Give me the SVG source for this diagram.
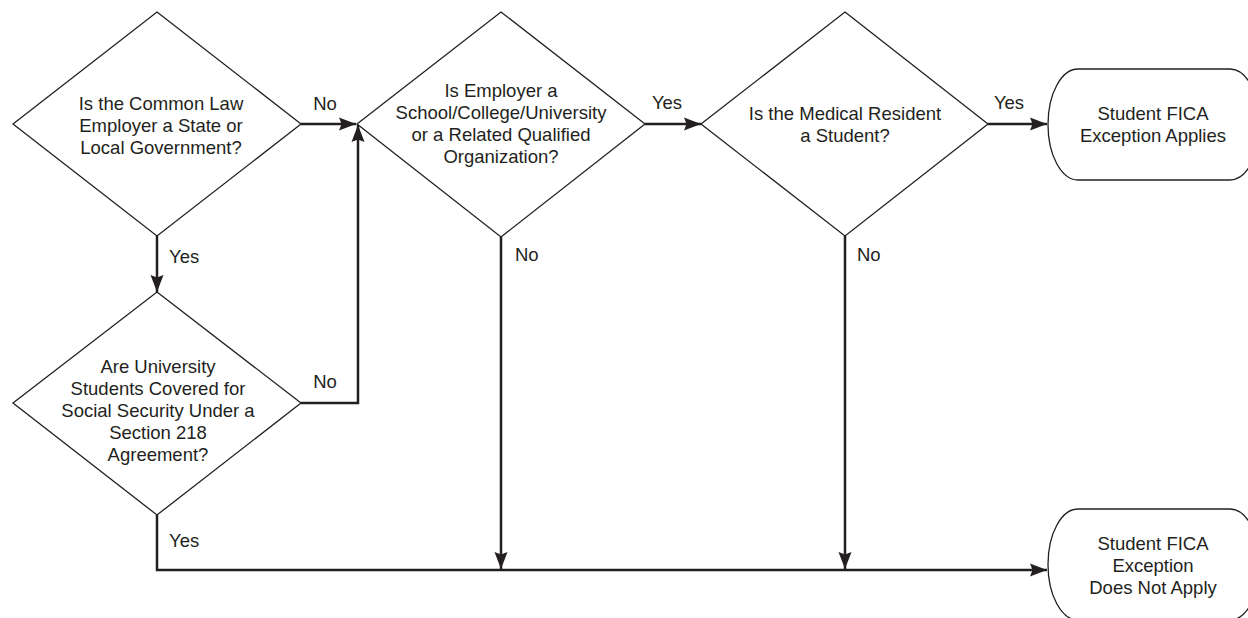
<svg xmlns="http://www.w3.org/2000/svg" width="1248" height="618" viewBox="0 0 1248 618">
<defs>
<style>
.shape{fill:#fff;stroke:#231f20;stroke-width:1.3}
.conn{fill:none;stroke:#231f20;stroke-width:2.5}
text{font-family:"Liberation Sans",Arial,sans-serif;font-size:18.5px;fill:#231f20;text-anchor:middle}
.lbl{text-anchor:start}
</style>
<marker id="arr" markerUnits="userSpaceOnUse" markerWidth="20" markerHeight="16" refX="17" refY="7" orient="auto">
<path d="M0,0.5 L17,7 L0,13.5 L2.5,7 z" fill="#231f20"/>
</marker>
</defs>
<rect width="1248" height="618" fill="#fff"/>
<g id="connectors">
<path class="conn" d="M301,124 H356" marker-end="url(#arr)"/>
<path class="conn" d="M157,236 V292" marker-end="url(#arr)"/>
<path class="conn" d="M301,403 H358 V125" marker-end="url(#arr)"/>
<path class="conn" d="M645,124 H701" marker-end="url(#arr)"/>
<path class="conn" d="M988,124 H1047" marker-end="url(#arr)"/>
<path class="conn" d="M501,237 V569" marker-end="url(#arr)"/>
<path class="conn" d="M845,236 V569" marker-end="url(#arr)"/>
<path class="conn" d="M157,515 V570 H1047" marker-end="url(#arr)"/>
<text x="325" y="110">No</text>
<text x="169" y="263" class="lbl">Yes</text>
<text x="325" y="388">No</text>
<text x="667" y="109">Yes</text>
<text x="1009" y="109">Yes</text>
<text x="515" y="261" class="lbl">No</text>
<text x="857" y="261" class="lbl">No</text>
<text x="169" y="547" class="lbl">Yes</text>
</g>
<g id="d1">
<polygon class="shape" points="157,12 301,124 157,236 13,124"/>
<text x="161" y="109.5">Is the Common Law</text>
<text x="161" y="131.5">Employer a State or</text>
<text x="161" y="153.5">Local Government?</text>
</g>
<g id="d2">
<polygon class="shape" points="157,292 301,403 157,515 13,403"/>
<text x="158" y="372.5">Are University</text>
<text x="158" y="394.5">Students Covered for</text>
<text x="158" y="417">Social Security Under a</text>
<text x="158" y="439">Section 218</text>
<text x="158" y="461">Agreement?</text>
</g>
<g id="d3">
<polygon class="shape" points="501,12 645,124 501,237 357,124"/>
<text x="501" y="96.5">Is Employer a</text>
<text x="501" y="118.5">School/College/University</text>
<text x="501" y="141">or a Related Qualified</text>
<text x="501" y="163">Organization?</text>
</g>
<g id="d4">
<polygon class="shape" points="845,12 988,124 845,236 701,124"/>
<text x="845" y="119.5">Is the Medical Resident</text>
<text x="845" y="142">a Student?</text>
</g>
<g id="t1">
<rect class="shape" x="1048" y="69" width="212" height="111" rx="30" ry="55.5"/>
<text x="1153" y="119.5">Student FICA</text>
<text x="1153" y="141.5">Exception Applies</text>
</g>
<g id="t2">
<rect class="shape" x="1048" y="509" width="212" height="111" rx="30" ry="55.5"/>
<text x="1153" y="549.5">Student FICA</text>
<text x="1153" y="571.5">Exception</text>
<text x="1153" y="593.5">Does Not Apply</text>
</g>
</svg>
